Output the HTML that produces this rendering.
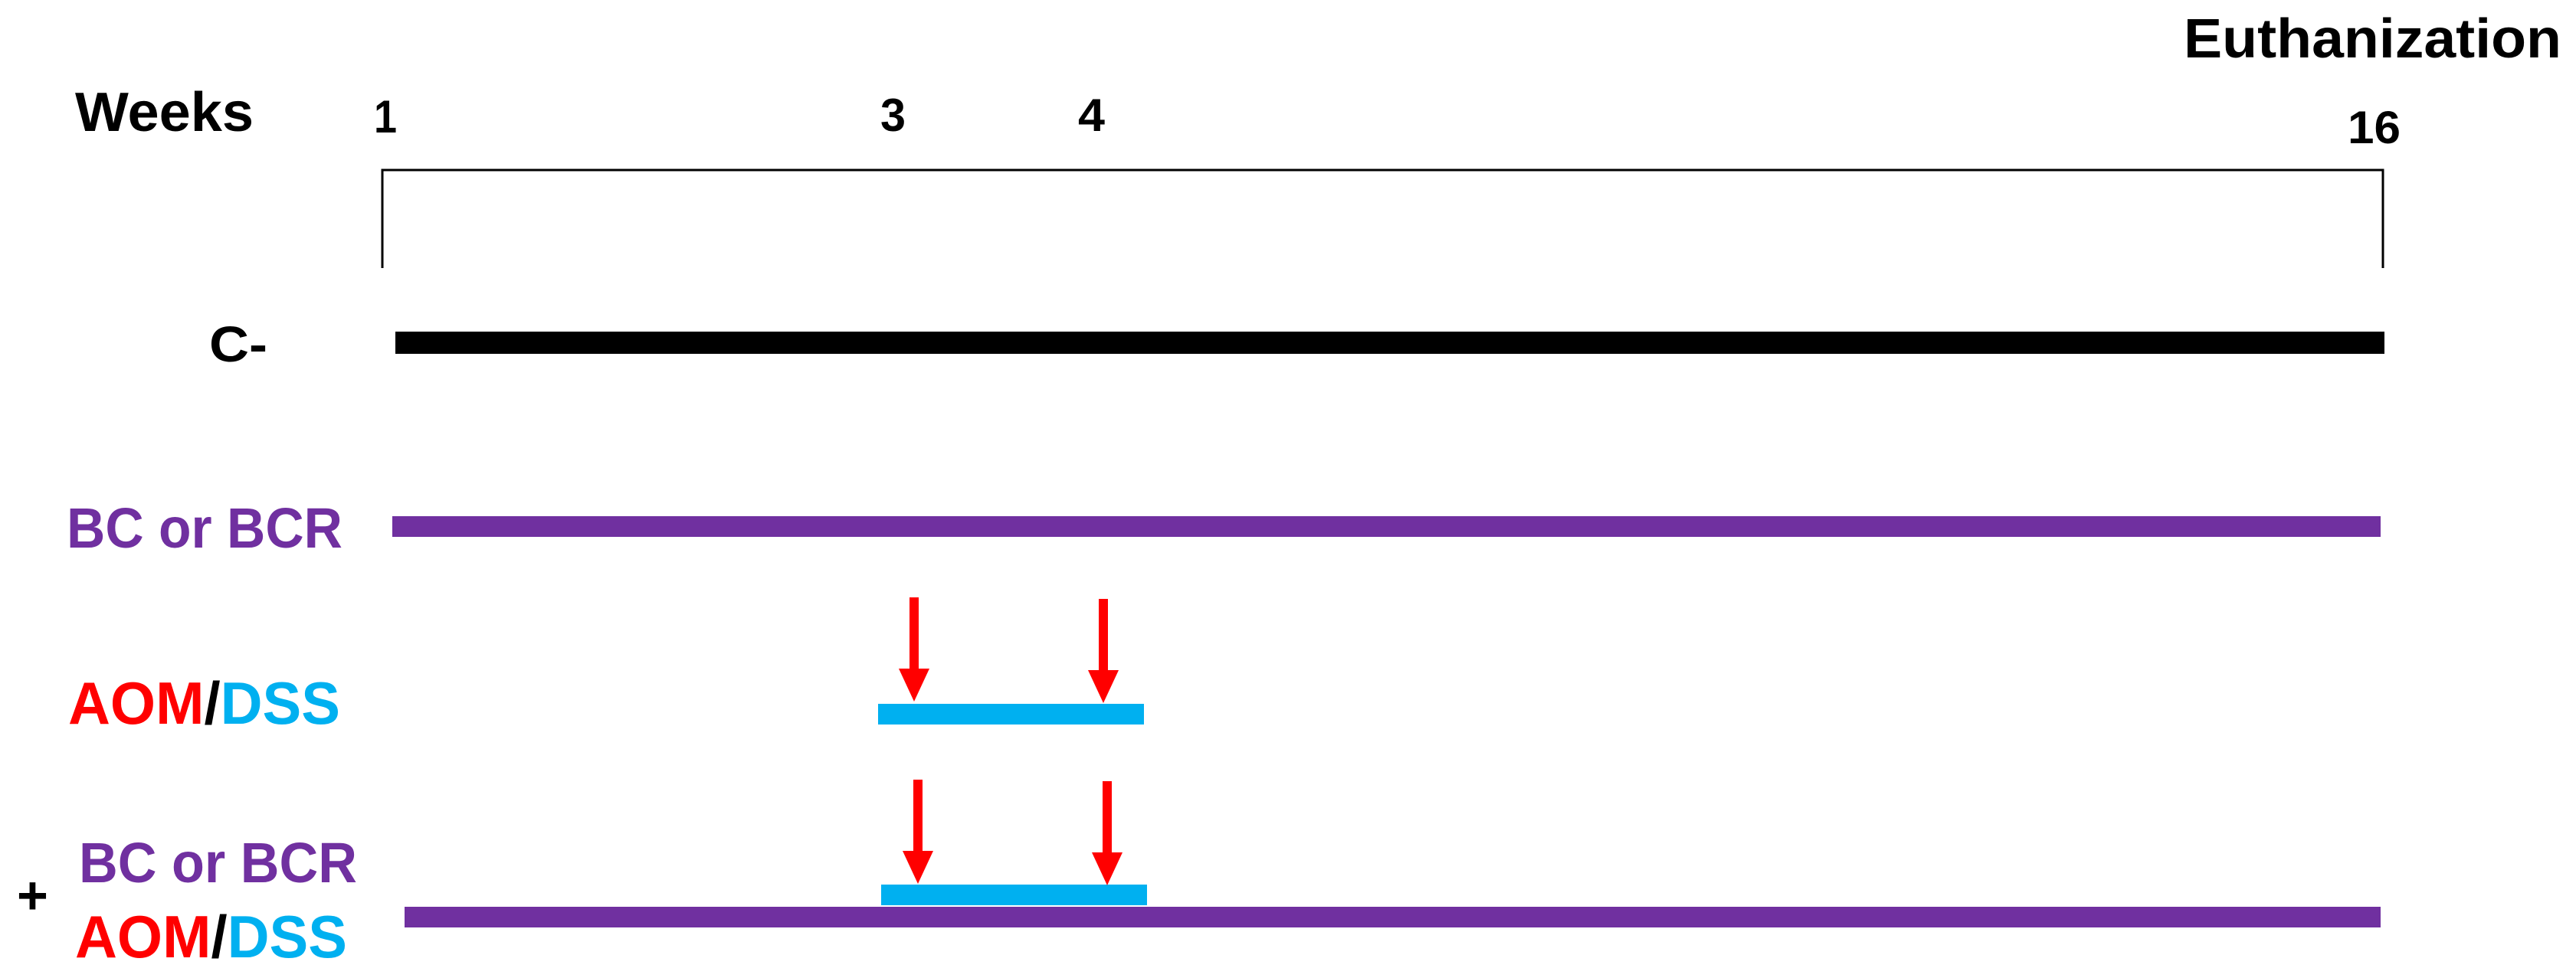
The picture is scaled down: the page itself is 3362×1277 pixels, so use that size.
<!DOCTYPE html>
<html><head><meta charset="utf-8"><style>
html,body{margin:0;padding:0;background:#fff;}
svg{display:block;}
text{font-family:"Liberation Sans",sans-serif;font-weight:bold;}
</style></head><body>
<svg width="3362" height="1277" viewBox="0 0 3362 1277" xmlns="http://www.w3.org/2000/svg">
<rect width="3362" height="1277" fill="#fff"/>
<!-- header -->
<text x="98" y="171" font-size="72" textLength="233" lengthAdjust="spacingAndGlyphs">Weeks</text>
<text x="488" y="173" font-size="60" textLength="30" lengthAdjust="spacingAndGlyphs">1</text>
<text x="1149" y="171" font-size="60" textLength="33" lengthAdjust="spacingAndGlyphs">3</text>
<text x="1407" y="171" font-size="60" textLength="35" lengthAdjust="spacingAndGlyphs">4</text>
<text x="3064" y="187" font-size="60" textLength="69" lengthAdjust="spacingAndGlyphs">16</text>
<text x="2850" y="75" font-size="72" textLength="493" lengthAdjust="spacingAndGlyphs">Euthanization</text>
<!-- bracket -->
<polyline points="499,350 499,222 3110,222 3110,350" fill="none" stroke="#000" stroke-width="3"/>
<!-- C- -->
<text x="273" y="472" font-size="66" textLength="76" lengthAdjust="spacingAndGlyphs">C-</text>
<rect x="516" y="433" width="2596" height="29" fill="#000"/>
<!-- BC or BCR -->
<text x="87" y="715" font-size="74" fill="#7030a0" textLength="360" lengthAdjust="spacingAndGlyphs">BC or BCR</text>
<rect x="512" y="674" width="2595" height="27" fill="#7030a0"/>
<!-- AOM/DSS -->
<text x="89" y="945" font-size="78" textLength="355" lengthAdjust="spacingAndGlyphs"><tspan fill="#ff0000">AOM</tspan><tspan fill="#000">/</tspan><tspan fill="#00b0f0">DSS</tspan></text>
<rect x="1146" y="919" width="347" height="27" fill="#00b0f0"/>
<rect x="1187" y="780" width="12" height="95" fill="#ff0000"/>
<polygon points="1173,873 1213,873 1193,916" fill="#ff0000"/>
<rect x="1434" y="782" width="12" height="95" fill="#ff0000"/>
<polygon points="1420,875 1460,875 1440,918" fill="#ff0000"/>
<!-- combined -->
<text x="103" y="1152" font-size="74" fill="#7030a0" textLength="363" lengthAdjust="spacingAndGlyphs">BC or BCR</text>
<text x="22" y="1193" font-size="70" fill="#000">+</text>
<text x="98" y="1250" font-size="78" textLength="355" lengthAdjust="spacingAndGlyphs"><tspan fill="#ff0000">AOM</tspan><tspan fill="#000">/</tspan><tspan fill="#00b0f0">DSS</tspan></text>
<rect x="528" y="1184" width="2579" height="27" fill="#7030a0"/>
<rect x="1150" y="1155" width="347" height="27" fill="#00b0f0"/>
<rect x="1192" y="1018" width="12" height="95" fill="#ff0000"/>
<polygon points="1178,1111 1218,1111 1198,1154" fill="#ff0000"/>
<rect x="1439" y="1020" width="12" height="95" fill="#ff0000"/>
<polygon points="1425,1113 1465,1113 1445,1156" fill="#ff0000"/>
</svg>
</body></html>
